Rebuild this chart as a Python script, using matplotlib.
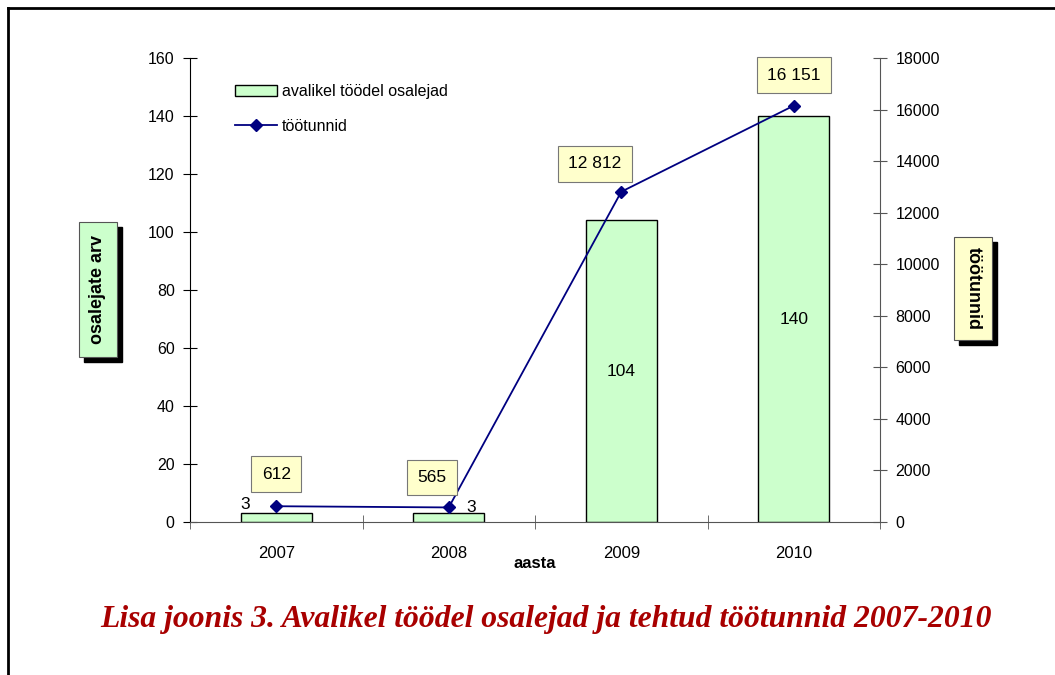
import matplotlib
matplotlib.use("Agg")
import matplotlib.pyplot as plt
from matplotlib.lines import Line2D
from matplotlib.patches import Patch, Rectangle

plt.rcParams['font.family'] = ['Liberation Sans', 'DejaVu Sans']

# andmed
aastad = ['2007', '2008', '2009', '2010']
osalejad = [3, 3, 104, 140]
tootunnid = [612, 565, 12812, 16151]
tunnid_sildid = ['612', '565', '12 812', '16 151']

W, H = 1055, 675
fig = plt.figure(figsize=(W / 100, H / 100), dpi=100)
ax = fig.add_axes([190 / W, 1 - 522 / H, 690 / W, 464 / H])
ax2 = ax.twinx()

x = list(range(len(aastad)))
ax.bar(x, osalejad, width=0.41, color='#CCFFCC', edgecolor='black', linewidth=1, zorder=2)
ax.set_xlim(-0.5, 3.5)
ax.set_ylim(0, 160)
ax.set_yticks(range(0, 161, 20))
ax.set_xticks(x)
ax.set_xticklabels(aastad)
ax.set_xticks([-0.5, 0.5, 1.5, 2.5, 3.5], minor=True)
ax.tick_params(axis='x', which='major', length=0, pad=17, labelsize=12)
ax.tick_params(axis='x', which='minor', direction='inout', length=10, color='#555555')
ax.tick_params(axis='y', direction='inout', length=10, labelsize=11.5, pad=6)
ax.spines['top'].set_visible(False)
ax.spines['right'].set_visible(False)
ax.spines['bottom'].set_color('#555555')

ax2.plot(x, tootunnid, color='#000080', marker='D', markersize=6.5, linewidth=1.3, zorder=3)
ax2.set_ylim(0, 18000)
ax2.set_yticks(range(0, 18001, 2000))
ax2.tick_params(axis='y', direction='inout', length=10, labelsize=11.5, pad=6, color='#555555')
ax2.spines['top'].set_visible(False)
ax2.spines['left'].set_visible(False)
ax2.spines['bottom'].set_visible(False)
ax2.spines['right'].set_color('#555555')

# tulpade sildid
ax.text(x[0] - 0.15, osalejad[0] + 0.3, '3', ha='right', va='bottom', fontsize=12.5)
ax.text(x[1] + 0.1, osalejad[1] - 0.5, '3', ha='left', va='bottom', fontsize=12.5)
for i in [2, 3]:
    ax.text(x[i], osalejad[i] / 2, str(osalejad[i]), ha='center', va='center', fontsize=12.5)

# töötundide sildid (nihked punktides)
nihked = [(0, 23), (-12, 21.5), (-19, 20), (0, 22)]
for i, lab in enumerate(tunnid_sildid):
    ax2.annotate(lab, (x[i], tootunnid[i]), xytext=nihked[i], textcoords='offset points',
                 ha='center', va='center', fontsize=12.5, zorder=5,
                 bbox=dict(boxstyle='square,pad=0.6', fc='#FFFFCC', ec='#777777', lw=0.8))

# legend
h1 = Patch(facecolor='#CCFFCC', edgecolor='black')
h2 = Line2D([], [], color='#000080', marker='D', markersize=6.5, linewidth=1.3)
ax.legend([h1, h2], ['avalikel töödel osalejad', 'töötunnid'], loc='upper left',
          bbox_to_anchor=(0.045, 0.975), frameon=False, fontsize=11.5,
          handlelength=2.6, handletextpad=0.3, labelspacing=1.25)

# telgede nimed varjuga kastides
def kast(x0, y0, x1, y1, tekst, fc, rot):
    fig.add_artist(Rectangle((x0 / W + 5 / W, 1 - y1 / H - 5 / H), (x1 - x0) / W, (y1 - y0) / H,
                             transform=fig.transFigure, fc='black', ec='black'))
    fig.add_artist(Rectangle((x0 / W, 1 - y1 / H), (x1 - x0) / W, (y1 - y0) / H,
                             transform=fig.transFigure, fc=fc, ec='#555555', lw=0.8))
    fig.text((x0 + x1) / 2 / W, 1 - (y0 + y1) / 2 / H, tekst, rotation=rot,
             ha='center', va='center', fontsize=13, fontweight='bold')

kast(79, 222, 117, 357, 'osalejate arv', '#CCFFCC', 90)
kast(954, 237, 992, 340, 'töötunnid', '#FFFFCC', -90)

fig.text(535 / W, 1 - 564 / H, 'aasta', ha='center', va='center', fontsize=12, fontweight='bold')

fig.text(546 / W, 1 - 620 / H, 'Lisa joonis 3. Avalikel töödel osalejad ja tehtud töötunnid 2007-2010',
         ha='center', va='center', fontsize=22.8, fontweight='bold', fontstyle='italic',
         family='Liberation Serif', color='#A80000')

# välimine raam
fig.add_artist(Line2D([8 / W, 1], [1 - 8 / H] * 2, color='black', lw=2))
fig.add_artist(Line2D([8 / W] * 2, [0, 1 - 8 / H], color='black', lw=2))

fig.savefig('out.png', dpi=100)
